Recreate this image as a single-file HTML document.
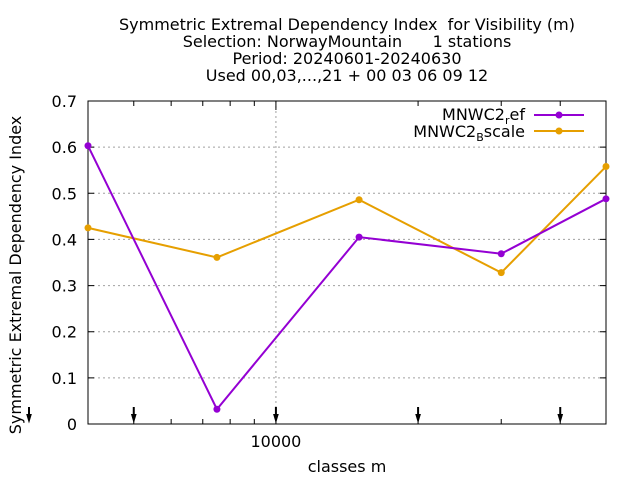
<!DOCTYPE html>
<html><head><meta charset="utf-8"><style>
html,body{margin:0;padding:0;background:#fff;}
svg{display:block;font-family:"DejaVu Sans","Liberation Sans",sans-serif;}
</style></head><body>
<svg id="chart" width="640" height="480" viewBox="0 0 640 480" xmlns="http://www.w3.org/2000/svg">
<rect width="640" height="480" fill="#fff"/>
<g font-size="16" text-anchor="middle" fill="#000">
<text x="347" y="30" xml:space="preserve">Symmetric Extremal Dependency Index  for Visibility (m)</text>
<text x="347" y="47" xml:space="preserve">Selection: NorwayMountain      1 stations</text>
<text x="347" y="64">Period: 20240601-20240630</text>
<text x="347" y="81">Used 00,03,...,21 + 00 03 06 09 12</text>
</g>
<g id="grid"></g>
<g id="axes"></g>
<g id="series"></g>
<text transform="translate(21,275) rotate(-90)" text-anchor="middle" font-size="16">Symmetric Extremal Dependency Index</text>
<text x="347" y="472" text-anchor="middle" font-size="16">classes m</text>
<g font-size="16" text-anchor="end">
<text x="525" y="120">MNWC2<tspan font-size="11" dy="4">r</tspan><tspan dy="-4">ef</tspan></text>
<line x1="534" y1="115" x2="584" y2="115" stroke="#9400d3" stroke-width="2"/>
<circle cx="559" cy="115" r="3.5" fill="#9400d3"/>
<text x="525" y="137">MNWC2<tspan font-size="11" dy="4">B</tspan><tspan dy="-4">scale</tspan></text>
<line x1="534" y1="131" x2="584" y2="131" stroke="#e69f00" stroke-width="2"/>
<circle cx="559" cy="131" r="3.5" fill="#e69f00"/>
</g>
</svg>
<script>
const categories = [4000, 7500, 15000, 30000, 50000];
const refValues = [0.603, 0.032, 0.405, 0.369, 0.488];
const bscaleValues = [0.425, 0.361, 0.486, 0.328, 0.558];
const yTicks = [0, 0.1, 0.2, 0.3, 0.4, 0.5, 0.6, 0.7];
const yTickLabels = ["0", "0.1", "0.2", "0.3", "0.4", "0.5", "0.6", "0.7"];
const xMajorTicks = [10000];
const xMajorLabels = ["10000"];
const xMinorTicks = [4000, 5000, 6000, 7000, 8000, 9000, 20000, 30000, 40000, 50000];
const arrowPositions = [3000, 5000, 10000, 20000, 40000];

const L = 88, R = 606, T = 101, B = 424;
const xMin = 4000, xMax = 50000, yMin = 0, yMax = 0.7;
const NS = "http://www.w3.org/2000/svg";
function xs(v){ return L + (Math.log10(v) - Math.log10(xMin)) / (Math.log10(xMax) - Math.log10(xMin)) * (R - L); }
function ys(v){ return B - (v - yMin) / (yMax - yMin) * (B - T); }
function mk(tag, attrs, parent){ const e = document.createElementNS(NS, tag); for (const k in attrs) e.setAttribute(k, attrs[k]); parent.appendChild(e); return e; }

const grid = document.getElementById('grid');
const axes = document.getElementById('axes');
const series = document.getElementById('series');

yTicks.forEach((t, i) => {
  const y = ys(t);
  if (t > yMin && t < yMax) {
    const g = mk('line', {x1: L, x2: R, y1: y, y2: y, stroke: '#a0a0a0', 'stroke-width': 1, 'stroke-dasharray': '2,3'}, grid);
    
    
  }
  const tk = mk('path', {d: `M${L},${y}h6M${R},${y}h-6`, stroke: '#000', 'stroke-width': 1}, axes);
  
  
  const lb = mk('text', {x: L - 11, y: y + 6, 'text-anchor': 'end', 'font-size': 16}, axes);
  lb.textContent = yTickLabels[i];
  
  
});

xMajorTicks.forEach((t, i) => {
  const x = xs(t);
  const g = mk('line', {x1: x, x2: x, y1: T, y2: B, stroke: '#a0a0a0', 'stroke-width': 1, 'stroke-dasharray': '2,3'}, grid);
  
  
  const tk = mk('path', {d: `M${x},${B}v-9M${x},${T}v9`, stroke: '#000', 'stroke-width': 1}, axes);
  
  
  const lb = mk('text', {x: x, y: B + 23, 'text-anchor': 'middle', 'font-size': 16}, axes);
  lb.textContent = xMajorLabels[i];
  
  
});
xMinorTicks.forEach(t => {
  const x = xs(t);
  const tk = mk('path', {d: `M${x},${B}v-5M${x},${T}v5`, stroke: '#000', 'stroke-width': 1}, axes);
  
  
});

const frame = mk('rect', {x: L, y: T, width: R - L, height: B - T, fill: 'none', stroke: '#000', 'stroke-width': 1}, axes);



arrowPositions.forEach(a => {
  const x = xs(a);
  const ar = mk('path', {d: `M${x},407V418M${x-1.5},415L${x},420L${x+1.5},415Z`, stroke: '#000', 'stroke-width': 2, fill: '#000'}, axes);
  
  
});

function drawSeries(vals, color, name){
  const pts = vals.map((v, i) => xs(categories[i]) + ',' + ys(v)).join(' ');
  const pl = mk('polyline', {points: pts, fill: 'none', stroke: color, 'stroke-width': 2}, series);
  
  
  vals.forEach((v, i) => {
    const c = mk('circle', {cx: xs(categories[i]), cy: ys(v), r: 3.5, fill: color}, series);
    
    
  });
}
drawSeries(bscaleValues, '#e69f00', 'bscale');
drawSeries(refValues, '#9400d3', 'ref');
</script>
</body></html>
